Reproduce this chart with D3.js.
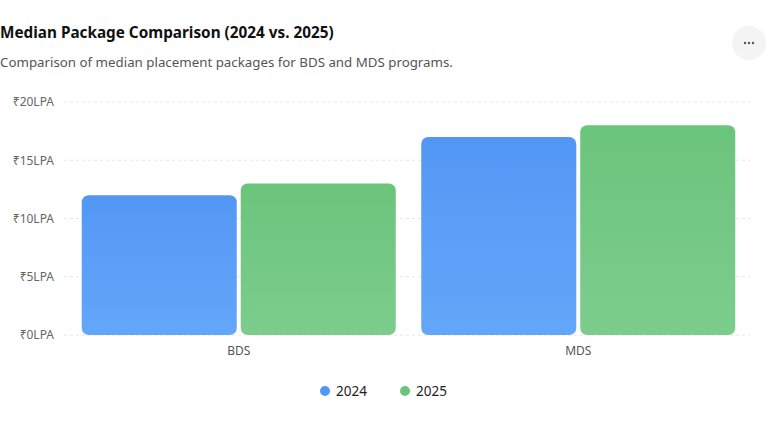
<!DOCTYPE html>
<html>
<head>
<meta charset="utf-8">
<title>Median Package Comparison</title>
<script src="https://d3js.org/d3.v7.min.js"></script>
<style>
  body { margin: 0; background: #fff; font-family: "Noto Sans", "Open Sans", sans-serif; }
</style>
</head>
<body>
<script>
var categories = ["BDS", "MDS"];
var seriesNames = ["2024", "2025"];
var values2024 = [12, 17];
var values2025 = [13, 18];
var yTicks = [0, 5, 10, 15, 20];

var W = 768, H = 432;
var svg = d3.select("body").append("svg").attr("width", W).attr("height", H);

var defs = svg.append("defs");
var grads = [["g2024", "#5397f5", "#63a7fa"], ["g2025", "#6bc47c", "#7ccd8c"]];
grads.forEach(function(g) {
  var lg = defs.append("linearGradient").attr("id", g[0]).attr("x1", 0).attr("y1", 0).attr("x2", 0).attr("y2", 1);
  lg.append("stop").attr("offset", "0%").attr("stop-color", g[1]);
  lg.append("stop").attr("offset", "100%").attr("stop-color", g[2]);
});

svg.append("text").attr("x", 0).attr("y", 38)
  .style("font-size", "15.3px").style("font-weight", "bold").attr("fill", "#111")
  .text("Median Package Comparison (2024 vs. 2025)");
svg.append("text").attr("x", 0).attr("y", 67)
  .style("font-size", "13.3px").attr("fill", "#555")
  .text("Comparison of median placement packages for BDS and MDS programs.");

// menu button
svg.append("circle").attr("cx", 749).attr("cy", 43).attr("r", 17).attr("fill", "#f4f4f5");
[-4, 0, 4].forEach(function(dx) {
  svg.append("circle").attr("cx", 749 + dx).attr("cy", 43).attr("r", 1.2).attr("fill", "#555");
});

var left = 64, plotRight = 750;
var y = d3.scaleLinear().domain([0, 20]).range([335, 102]);
var x0 = d3.scaleBand().domain(categories).range([69, 748]).paddingInner(0).paddingOuter(0);
var x1 = d3.scaleBand().domain(seriesNames).range([12.75, x0.bandwidth() - 12.75]).paddingInner(0.025);

// grid
svg.append("g").selectAll("line").data(yTicks).enter().append("line")
  .attr("x1", left).attr("x2", plotRight)
  .attr("y1", function(d) { return y(d); }).attr("y2", function(d) { return y(d); })
  .attr("stroke", "#e6e6e6").attr("stroke-dasharray", "3,3");

var yAxis = svg.append("g").attr("transform", "translate(" + left + ",0)")
  .call(d3.axisLeft(y).tickValues(yTicks).tickSize(0).tickPadding(10).tickFormat(function(d) { return "₹" + d + "LPA"; }));
yAxis.select(".domain").remove();
yAxis.selectAll("text").style("font-size", "12px").style("font-family", "Noto Sans, sans-serif").attr("fill", "#666");

var xAxis = svg.append("g").attr("transform", "translate(0,335)")
  .call(d3.axisBottom(x0).tickSize(0).tickPadding(11));
xAxis.select(".domain").remove();
xAxis.selectAll("text").style("font-size", "12px").style("font-family", "Noto Sans, sans-serif").attr("fill", "#555");

var rows = categories.map(function(c, i) {
  return { cat: c, vals: [{ s: "2024", v: values2024[i] }, { s: "2025", v: values2025[i] }] };
});

var groups = svg.append("g").selectAll("g").data(rows).enter().append("g")
  .attr("transform", function(d) { return "translate(" + x0(d.cat) + ",0)"; });
groups.selectAll("rect").data(function(d) { return d.vals; }).enter().append("rect")
  .attr("x", function(d) { return x1(d.s); })
  .attr("width", x1.bandwidth())
  .attr("y", function(d) { return y(d.v); })
  .attr("height", function(d) { return y(0) - y(d.v); })
  .attr("rx", 7).attr("ry", 7)
  .attr("fill", function(d) { return "url(#g" + d.s + ")"; });

// legend
var legend = svg.append("g").attr("transform", "translate(325,391)");
var legendColors = ["#5397f5", "#6bc47c"];
var li = legend.selectAll("g").data(seriesNames).enter().append("g")
  .attr("transform", function(d, i) { return "translate(" + (i * 80) + ",0)"; });
li.append("circle").attr("r", 5).attr("fill", function(d, i) { return legendColors[i]; });
li.append("text").attr("x", 11).attr("y", 5).style("font-size", "13.5px").attr("fill", "#222").text(function(d) { return d; });
</script>
</body>
</html>
